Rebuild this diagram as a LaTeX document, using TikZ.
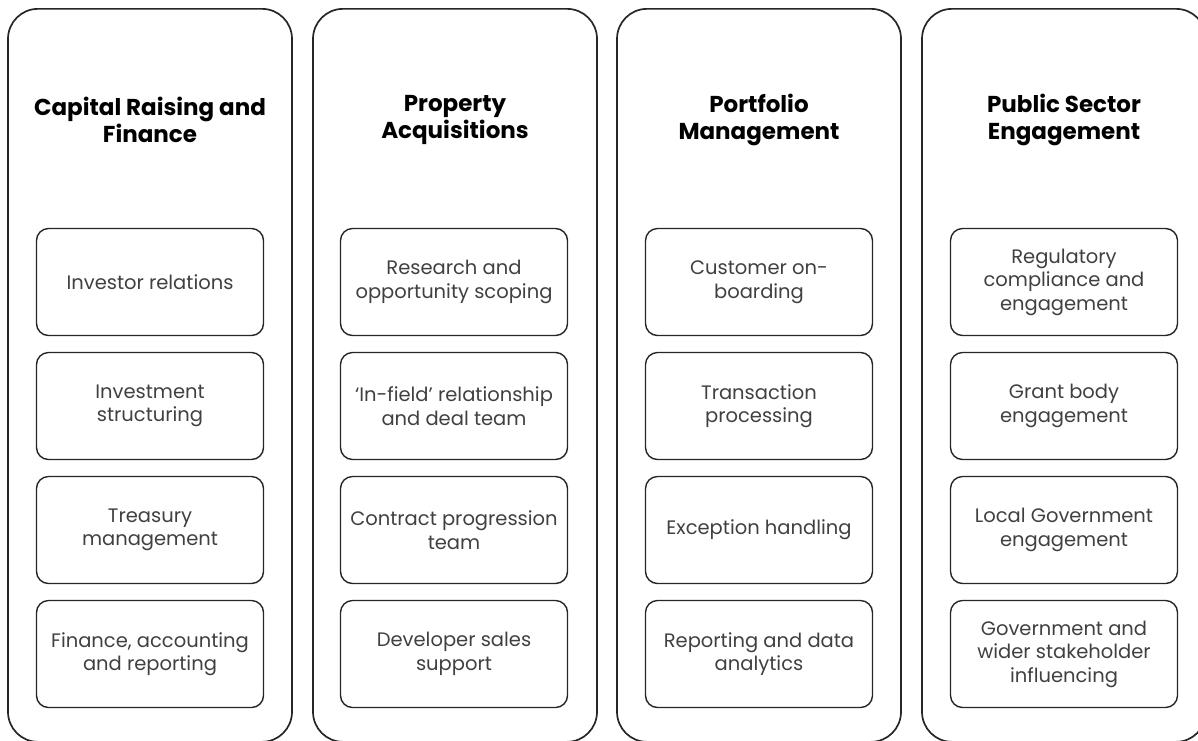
\documentclass[tikz,border=0pt]{standalone}
\usepackage{fontspec}
\setmainfont{Poppins}
\usepackage{tikz}
\newcommand{\rowstep}{124}
\tikzset{
	pillar/.style={draw=black!85, line width=1.7pt, rounded corners=30pt, minimum width=284pt, minimum height=733pt, anchor=north, inner sep=0pt},
	heading/.style={font=\bfseries\fontsize{23}{27.5}\selectfont, align=center, text=black},
	task/.style={draw=black!85, line width=1.4pt, rounded corners=12pt, minimum width=227pt, minimum height=107pt, inner sep=0pt, align=center, font=\fontsize{19.5}{23.5}\selectfont, text=black!75}
}

\begin{document}
\begin{tikzpicture}[x=1pt,y=-1pt]
	\useasboundingbox (0,0) rectangle (1198,740);
	% columns
	\node[pillar] (capcol) at (150,8) {};
	\node[pillar] (acqcol) at (455,8) {};
	\node[pillar] (portcol) at (759,8) {};
	\node[pillar] (pubcol) at (1064,8) {};

	\node[heading] (cap) at (150,120) {Capital Raising and\\Finance};
	\node[heading] (acq) at (455,120) {Property\\Acquisitions};
	\node[heading] (port) at (759,120) {Portfolio\\Management};
	\node[heading] (pub) at (1064,120) {Public Sector\\Engagement};

	\node[task] (cap1) at (150,282) {Investor relations};
	\node[task] (cap2) at (150,282+\rowstep) {Investment\\structuring};
	\node[task] (cap3) at (150,282+2*\rowstep) {Treasury\\management};
	\node[task] (cap4) at (150,282+3*\rowstep) {Finance, accounting\\and reporting};

	\node[task] (acq1) at (454,282) {Research and\\opportunity scoping};
	\node[task] (acq2) at (454,282+\rowstep) {`In-field' relationship\\and deal team};
	\node[task] (acq3) at (454,282+2*\rowstep) {Contract progression\\team};
	\node[task] (acq4) at (454,282+3*\rowstep) {Developer sales\\support};

	\node[task] (port1) at (759,282) {Customer on-\\boarding};
	\node[task] (port2) at (759,282+\rowstep) {Transaction\\processing};
	\node[task] (port3) at (759,282+2*\rowstep) {Exception handling};
	\node[task] (port4) at (759,282+3*\rowstep) {Reporting and data\\analytics};

	\node[task] (pub1) at (1064,282) {Regulatory\\compliance and\\engagement};
	\node[task] (pub2) at (1064,282+\rowstep) {Grant body\\engagement};
	\node[task] (pub3) at (1064,282+2*\rowstep) {Local Government\\engagement};
	\node[task] (pub4) at (1064,282+3*\rowstep) {Government and\\wider stakeholder\\influencing};
\end{tikzpicture}
\end{document}
